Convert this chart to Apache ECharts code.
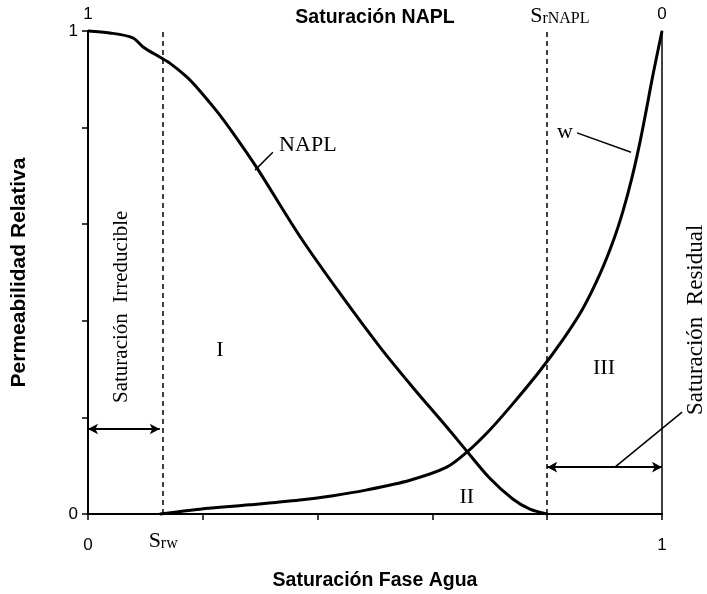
<!DOCTYPE html>
<html>
<head>
<meta charset="utf-8">
<title>Permeabilidad relativa</title>
<script src="https://cdn.jsdelivr.net/npm/echarts@6/dist/echarts.min.js"></script>
<style>
    html, body { margin: 0; padding: 0; background: #fff; }
    #main { width: 707px; height: 594px; }
</style>
</head>
<body>
<div id="main"></div>
<script>
// curva NAPL (saturacion de agua -> permeabilidad relativa)
var naplSat = [0, 0.038, 0.078, 0.096, 0.125, 0.143, 0.172, 0.195, 0.225, 0.253, 0.294, 0.369, 0.440, 0.509, 0.566, 0.625, 0.660, 0.700, 0.740, 0.770, 0.800];
var naplKr = [1.0, 0.996, 0.986, 0.967, 0.946, 0.933, 0.905, 0.876, 0.833, 0.788, 0.717, 0.575, 0.455, 0.345, 0.262, 0.180, 0.130, 0.074, 0.031, 0.010, 0];
// curva agua (w)
var aguaSat = [0.125, 0.195, 0.282, 0.369, 0.427, 0.486, 0.561, 0.625, 0.660, 0.700, 0.740, 0.787, 0.828, 0.862, 0.892, 0.915, 0.932, 0.948, 0.962, 0.974, 0.984, 1.0];
var aguaKr = [0, 0.010, 0.019, 0.029, 0.038, 0.050, 0.070, 0.097, 0.128, 0.174, 0.228, 0.296, 0.362, 0.425, 0.497, 0.565, 0.627, 0.698, 0.772, 0.845, 0.908, 1.0];

var srw = 0.125;
var srNapl = 0.8;

// etiquetas de los ejes
var xTickValues = [0, 1];
var xTickLabels = ['0', '1'];
var topTickValues = [0, 1];
var topTickLabels = ['0', '1'];
var yTickValues = [0, 1];
var yTickLabels = ['0', '1'];

var serif = '"Liberation Serif", "DejaVu Serif", serif';
var sans = '"Liberation Sans", Arial, sans-serif';

function zip(xs, ys) {
    var out = [];
    for (var i = 0; i < xs.length; i++) {
        out.push([xs[i], ys[i]]);
    }
    return out;
}

function tickFormatter(values, labels) {
    return function (v) {
        for (var i = 0; i < values.length; i++) {
            if (Math.abs(v - values[i]) < 1e-9) return labels[i];
        }
        return '';
    };
}

var chart = echarts.init(document.getElementById('main'));

var option = {
    animation: false,
    backgroundColor: '#fff',
    grid: { left: 88, right: 45, top: 31, bottom: 80, containLabel: false, outerBoundsMode: 'none' },
    xAxis: [{
        type: 'value',
        position: 'bottom',
        min: 0,
        max: 1,
        interval: 0.2,
        name: 'Saturación Fase Agua',
        nameLocation: 'middle',
        nameGap: 57,
        nameTextStyle: { color: '#000', fontFamily: sans, fontWeight: 'bold', fontSize: 19.5 },
        axisLine: { lineStyle: { color: '#000', width: 2 } },
        axisTick: { show: true, length: 6, lineStyle: { color: '#000', width: 1.5 } },
        axisLabel: { color: '#000', fontFamily: sans, fontSize: 17, margin: 23, formatter: tickFormatter(xTickValues, xTickLabels) },
        splitLine: { show: false }
    }, {
        type: 'value',
        position: 'top',
        inverse: true,
        min: 0,
        max: 1,
        interval: 1,
        axisLine: { lineStyle: { color: '#000', width: 2 } },
        axisTick: { show: false },
        axisLabel: { color: '#000', fontFamily: sans, fontSize: 17, margin: 8, formatter: tickFormatter(topTickValues, topTickLabels) },
        splitLine: { show: false }
    }],
    yAxis: [{
        type: 'value',
        position: 'left',
        min: 0,
        max: 1,
        interval: 0.2,
        name: 'Permeabilidad Relativa',
        nameLocation: 'middle',
        nameGap: 58,
        nameRotate: 90,
        nameTextStyle: { color: '#000', fontFamily: sans, fontWeight: 'bold', fontSize: 21 },
        axisLine: { lineStyle: { color: '#000', width: 2 } },
        axisTick: { show: true, length: 6, lineStyle: { color: '#000', width: 1.5 } },
        axisLabel: { color: '#000', fontFamily: sans, fontSize: 17, margin: 10, formatter: tickFormatter(yTickValues, yTickLabels) },
        splitLine: { show: false }
    }, {
        type: 'value',
        position: 'right',
        min: 0,
        max: 1,
        offset: 1,
        axisLine: { show: true, lineStyle: { color: '#000', width: 1.5 } },
        axisTick: { show: false },
        axisLabel: { show: false },
        splitLine: { show: false }
    }],
    series: [{
        name: 'NAPL',
        type: 'line',
        xAxisIndex: 0,
        yAxisIndex: 0,
        data: zip(naplSat, naplKr),
        smooth: 0.3,
        symbol: 'none',
        clip: false,
        lineStyle: { color: '#000', width: 3 },
        markLine: {
            silent: true,
            symbol: 'none',
            label: { show: false },
            lineStyle: { color: '#000', type: [5, 4], width: 1.5 },
            data: [{ xAxis: srw }, { xAxis: srNapl }]
        }
    }, {
        name: 'w',
        type: 'line',
        xAxisIndex: 0,
        yAxisIndex: 0,
        data: zip(aguaSat, aguaKr),
        smooth: 0.3,
        symbol: 'none',
        clip: false,
        lineStyle: { color: '#000', width: 3 },
        markLine: {
            silent: true,
            symbol: ['arrow', 'arrow'],
            symbolSize: [8, 10],
            label: { show: false },
            lineStyle: { color: '#000', type: 'solid', width: 2 },
            data: [
                [{ coord: [0, 0.176] }, { coord: [srw, 0.176] }],
                [{ coord: [srNapl, 0.097] }, { coord: [1, 0.097] }]
            ]
        }
    }]
};

chart.setOption(option);

// anotaciones en coordenadas de datos
var notes = [
    { text: 'Saturación NAPL', at: [0.5, 1.027], font: 'bold 19.5px ' + sans },
    { text: 'NAPL', at: [0.383, 0.764] },
    { text: 'w', at: [0.831, 0.791] },
    { text: 'I', at: [0.230, 0.340] },
    { text: 'II', at: [0.660, 0.035] },
    { text: 'III', at: [0.899, 0.302] },
    { text: 'Saturación  Irreducible', at: [0.059, 0.429], vertical: true, font: '21px ' + serif },
    { text: 'Saturación  Residual', at: [1.059, 0.402], vertical: true, font: '23px ' + serif },
    { text: '{s|S}{sub|rw}', at: [0.131, -0.056], rich: true },
    { text: '{s|S}{sub|rNAPL}', at: [0.822, 1.031], rich: true }
];
var leaders = [
    [[0.322, 0.749], [0.291, 0.712]],
    [[0.852, 0.789], [0.946, 0.749]],
    [[0.918, 0.097], [1.035, 0.211]]
];

function px(p) {
    return chart.convertToPixel({ xAxisIndex: 0, yAxisIndex: 0 }, p);
}

var graphics = [];
notes.forEach(function (n) {
    var p = px(n.at);
    var style = {
        text: n.text,
        fill: '#000',
        font: n.font || ('22px ' + serif),
        textAlign: 'center',
        align: 'center',
        textVerticalAlign: 'middle',
        verticalAlign: 'middle'
    };
    if (n.rich) {
        style.rich = {
            s: { fontSize: 22, fontFamily: serif, fill: '#000', color: '#000', verticalAlign: 'bottom' },
            sub: { fontSize: 16, fontFamily: serif, fill: '#000', color: '#000', verticalAlign: 'bottom' }
        };
    }
    graphics.push({
        type: 'text',
        x: p[0],
        y: p[1],
        rotation: n.vertical ? Math.PI / 2 : 0,
        silent: true,
        style: style
    });
});
leaders.forEach(function (l) {
    var a = px(l[0]);
    var b = px(l[1]);
    graphics.push({
        type: 'line',
        silent: true,
        shape: { x1: a[0], y1: a[1], x2: b[0], y2: b[1] },
        style: { stroke: '#000', lineWidth: 1.5 }
    });
});

chart.setOption({ graphic: graphics });
</script>
</body>
</html>
